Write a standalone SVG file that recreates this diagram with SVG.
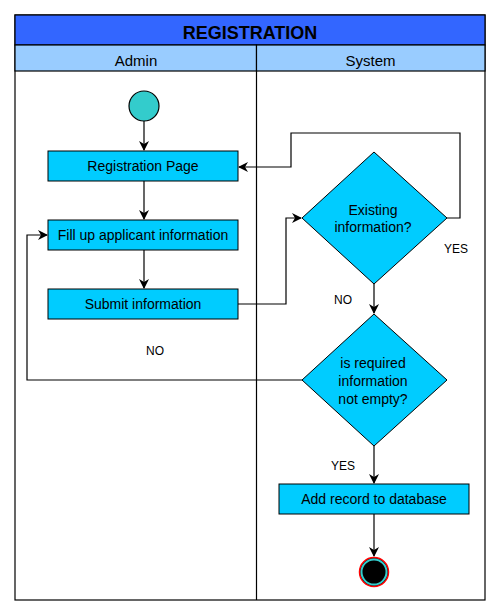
<svg xmlns="http://www.w3.org/2000/svg" width="500" height="616" viewBox="0 0 500 616">
<defs>
<style>
text{font-family:"Liberation Sans",Arial,sans-serif;fill:#000;text-anchor:middle}
.box{fill:#00CCFF;stroke:#000;stroke-width:1}
.dia{fill:#00CCFF;stroke:#000;stroke-width:1}
.t{font-size:14px}
.lbl{font-size:12px}
.edge{fill:none;stroke:#000;stroke-width:1.2}
</style>
<marker id="arr" viewBox="0 0 10 10" refX="9" refY="5" markerWidth="10" markerHeight="10" markerUnits="userSpaceOnUse" orient="auto">
<path d="M0,0 L10,5 L0,10 L3,5 z" fill="#000"/>
</marker>
</defs>
<rect width="500" height="616" fill="#fff"/>
<g id="pool">
<rect x="15" y="15" width="470" height="585" fill="#fff" stroke="#000" stroke-width="1.2"/>
<rect x="15" y="15" width="470" height="30" fill="#3366FF" stroke="#000" stroke-width="1.2"/>
<text x="250" y="39" font-size="18" font-weight="bold">REGISTRATION</text>
<rect x="15" y="45" width="241.5" height="26" fill="#99CCFF" stroke="#000" stroke-width="1.2"/>
<rect x="256.5" y="45" width="228.5" height="26" fill="#99CCFF" stroke="#000" stroke-width="1.2"/>
<line x1="256.5" y1="71" x2="256.5" y2="600" stroke="#000" stroke-width="1.2"/>
<text x="136" y="66" font-size="15">Admin</text>
<text x="370.5" y="66" font-size="15">System</text>
</g>
<g id="edges">
<path class="edge" d="M144,121 V150" marker-end="url(#arr)"/>
<path class="edge" d="M144,181 V219" marker-end="url(#arr)"/>
<path class="edge" d="M144,250 V288" marker-end="url(#arr)"/>
<path class="edge" d="M238,304 H286 V218 H301" marker-end="url(#arr)"/>
<path class="edge" d="M447,218 H460 V133 H291 V167 H239" marker-end="url(#arr)"/>
<path class="edge" d="M374,284 V313" marker-end="url(#arr)"/>
<path class="edge" d="M302,380 H27 V235 H47" marker-end="url(#arr)"/>
<path class="edge" d="M374,446 V483" marker-end="url(#arr)"/>
<path class="edge" d="M374,514 V556" marker-end="url(#arr)"/>
<text class="lbl" x="456" y="253">YES</text>
<text class="lbl" x="343" y="304">NO</text>
<text class="lbl" x="155" y="355">NO</text>
<text class="lbl" x="343" y="470">YES</text>
</g>
<g id="start">
<circle cx="144" cy="106" r="15" fill="#33CCCC" stroke="#000" stroke-width="1.2"/>
</g>
<g id="registration-page">
<rect class="box" x="48" y="151" width="190" height="30"/>
<text class="t" x="143" y="171">Registration Page</text>
</g>
<g id="fill-up">
<rect class="box" x="48" y="220" width="190" height="30"/>
<text class="t" x="143" y="240">Fill up applicant information</text>
</g>
<g id="submit">
<rect class="box" x="48" y="289" width="190" height="30"/>
<text class="t" x="143" y="309">Submit information</text>
</g>
<g id="existing">
<polygon class="dia" points="374,152 447,218 374,284 302,218"/>
<text class="t" x="373" y="215">Existing</text>
<text class="t" x="373" y="232">information?</text>
</g>
<g id="required">
<polygon class="dia" points="374,314 447,380 374,446 302,380"/>
<text class="t" x="373" y="368">is required</text>
<text class="t" x="373" y="386">information</text>
<text class="t" x="373" y="404">not empty?</text>
</g>
<g id="add-record">
<rect class="box" x="279" y="484" width="190" height="30"/>
<text class="t" x="374" y="504">Add record to database</text>
</g>
<g id="end">
<circle cx="374" cy="572" r="14.5" fill="#000" stroke="#FF0000" stroke-width="1.5"/>
<circle cx="374" cy="572" r="12.5" fill="#000" stroke="#33CCCC" stroke-width="2"/>
</g>
</svg>
